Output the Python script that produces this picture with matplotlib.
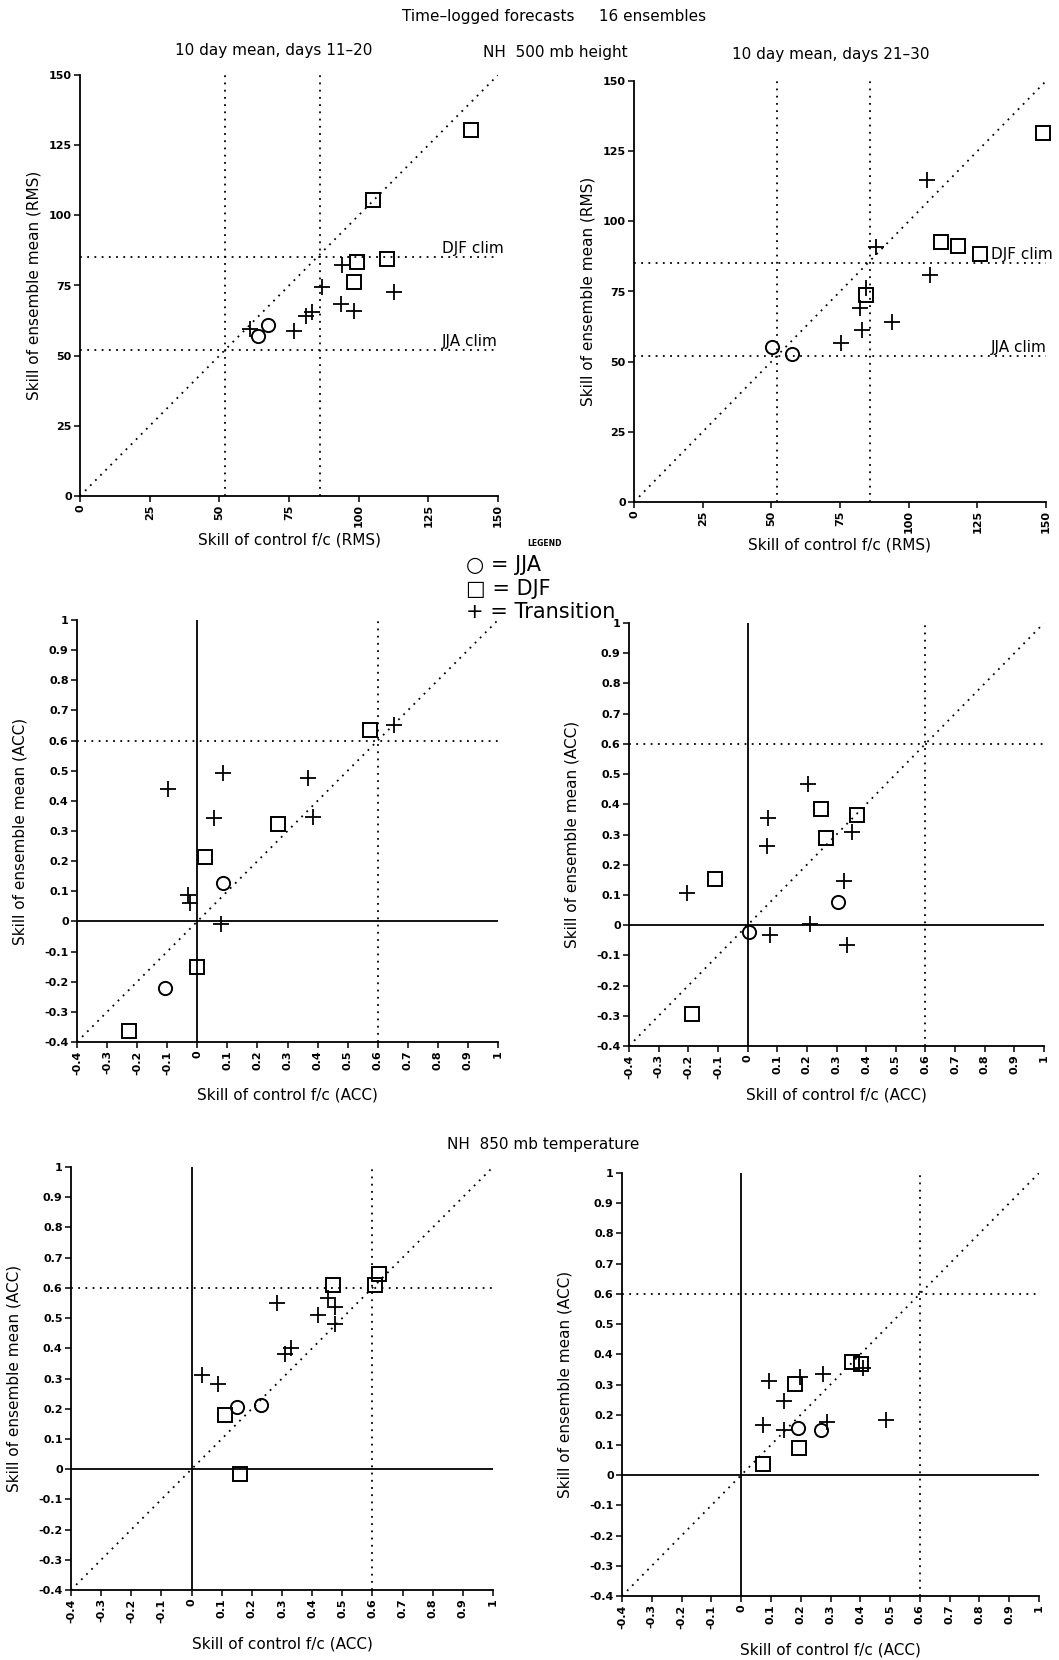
import matplotlib
matplotlib.use("Agg")
import matplotlib.pyplot as plt

plt.rcParams['font.family'] = ['DejaVu Sans']

# --- NH 500 mb height, RMS, days 11-20 ---
rms1_djf_x = [140.2, 105.3, 99.3, 110.3, 98.4]
rms1_djf_y = [130.5, 105.5, 83.5, 84.4, 76.3]
rms1_jja_x = [63.7, 67.5]
rms1_jja_y = [56.9, 60.8]
rms1_tr_x = [61.0, 76.8, 81.0, 83.1, 86.9, 94.0, 93.8, 98.2, 112.6]
rms1_tr_y = [59.5, 58.8, 64.2, 65.7, 74.6, 82.4, 68.4, 65.8, 72.7]

# --- NH 500 mb height, RMS, days 21-30 ---
rms2_djf_x = [148.8, 111.9, 118.1, 126.1, 84.6]
rms2_djf_y = [131.3, 92.6, 91.2, 88.4, 73.8]
rms2_jja_x = [50.3, 57.7]
rms2_jja_y = [55.1, 52.8]
rms2_tr_x = [106.7, 88.0, 107.7, 84.3, 82.2, 83.1, 75.4, 94.1]
rms2_tr_y = [114.9, 90.7, 81.0, 76.3, 69.1, 61.2, 56.6, 64.3]

# --- NH 500 mb height, ACC, days 11-20 ---
acc1_djf_x = [0.574, 0.269, 0.026, -0.002, -0.227]
acc1_djf_y = [0.634, 0.322, 0.215, -0.151, -0.362]
acc1_jja_x = [0.086, -0.109]
acc1_jja_y = [0.128, -0.221]
acc1_tr_x = [0.654, 0.086, -0.098, 0.369, 0.384, 0.055, -0.030, -0.023, 0.080]
acc1_tr_y = [0.653, 0.491, 0.438, 0.477, 0.346, 0.342, 0.088, 0.060, -0.010]

# --- NH 500 mb height, ACC, days 21-30 ---
acc2_djf_x = [0.248, 0.368, 0.264, -0.110, -0.189]
acc2_djf_y = [0.383, 0.366, 0.290, 0.152, -0.294]
acc2_jja_x = [0.304, 0.004]
acc2_jja_y = [0.075, -0.022]
acc2_tr_x = [0.203, 0.069, 0.067, 0.353, 0.324, -0.206, 0.211, 0.075, 0.336]
acc2_tr_y = [0.466, 0.356, 0.262, 0.309, 0.146, 0.106, 0.004, -0.034, -0.067]

# --- NH 850 mb temperature, ACC, days 11-20 ---
t1_djf_x = [0.469, 0.621, 0.607, 0.110, 0.161]
t1_djf_y = [0.611, 0.645, 0.608, 0.180, -0.015]
t1_jja_x = [0.150, 0.230]
t1_jja_y = [0.205, 0.213]
t1_tr_x = [0.284, 0.419, 0.453, 0.477, 0.475, 0.310, 0.331, 0.035, 0.088]
t1_tr_y = [0.550, 0.509, 0.567, 0.538, 0.480, 0.381, 0.402, 0.312, 0.283]

# --- NH 850 mb temperature, ACC, days 21-30 ---
t2_djf_x = [0.371, 0.404, 0.181, 0.195, 0.073]
t2_djf_y = [0.376, 0.367, 0.303, 0.090, 0.036]
t2_jja_x = [0.190, 0.268]
t2_jja_y = [0.155, 0.148]
t2_tr_x = [0.093, 0.198, 0.274, 0.144, 0.073, 0.144, 0.289, 0.487, 0.408]
t2_tr_y = [0.312, 0.324, 0.335, 0.245, 0.167, 0.150, 0.175, 0.181, 0.355]

rms_ticks = [0, 25, 50, 75, 100, 125, 150]
acc_ticks = [-0.4, -0.3, -0.2, -0.1, 0, 0.1, 0.2, 0.3, 0.4, 0.5, 0.6, 0.7, 0.8, 0.9, 1]
acc_labels = ['-0.4', '-0.3', '-0.2', '-0.1', '0', '0.1', '0.2', '0.3', '0.4',
              '0.5', '0.6', '0.7', '0.8', '0.9', '1']
rms_clim = {'DJF clim': 85, 'JJA clim': 52}

W, H = 1059, 1660
fig = plt.figure(figsize=(W / 100, H / 100), dpi=100)

dot = (0, (1, 3))
LAB = 11


def make_axes(l, r, t, b):
    # pixel box -> figure fraction
    return fig.add_axes([l / W, 1 - b / H, (r - l) / W, (b - t) / H])


def style(ax, lo, hi, ticks, labels):
    ax.set_xlim(lo, hi)
    ax.set_ylim(lo, hi)
    ax.set_xticks(ticks)
    ax.set_yticks(ticks)
    ax.set_xticklabels(labels, rotation=90, fontsize=8, fontweight='bold')
    ax.set_yticklabels(labels, fontsize=8, fontweight='bold')
    for s in ['top', 'right']:
        ax.spines[s].set_visible(False)
    for s in ['left', 'bottom']:
        ax.spines[s].set_linewidth(1.3)
    ax.tick_params(direction='out', length=4, width=1.1, pad=2)
    ax.axline((lo, lo), (hi, hi), color='k', linestyle=dot, lw=1.3)


def points(ax, djf_x, djf_y, jja_x, jja_y, tr_x, tr_y):
    ax.plot(djf_x, djf_y, 's', ms=9.5, mfc='none', mec='k', mew=1.4, clip_on=False)
    ax.plot(jja_x, jja_y, 'o', ms=9.5, mfc='none', mec='k', mew=1.4, clip_on=False)
    ax.plot(tr_x, tr_y, '+', ms=11, mec='k', mew=1.3, clip_on=False)


def rms_panel(box, data, xlab_y, ylab_x):
    ax = make_axes(*box)
    style(ax, 0, 150, rms_ticks, [str(t) for t in rms_ticks])
    for v in [52, 86]:
        ax.axvline(v, color='k', linestyle=dot, lw=1.3)
    for name, v in rms_clim.items():
        ax.axhline(v, color='k', linestyle=dot, lw=1.3)
        ax.text(130, v + 0.5, name, fontsize=LAB, va='bottom', ha='left', clip_on=False)
    points(ax, *data)
    ax.set_xlabel('Skill of control f/c (RMS)', fontsize=LAB, va='center')
    ax.set_ylabel('Skill of ensemble mean (RMS)', fontsize=LAB, va='center')
    ax.xaxis.set_label_coords(0.5, xlab_y)
    ax.yaxis.set_label_coords(ylab_x, 0.5)
    return ax


def acc_panel(box, data, xlab_y, ylab_x):
    ax = make_axes(*box)
    style(ax, -0.4, 1, acc_ticks, acc_labels)
    ax.axvline(0, color='k', lw=1.3)
    ax.axhline(0, color='k', lw=1.3)
    ax.axvline(0.6, color='k', linestyle=dot, lw=1.3)
    ax.axhline(0.6, color='k', linestyle=dot, lw=1.3)
    points(ax, *data)
    ax.set_xlabel('Skill of control f/c (ACC)', fontsize=LAB, va='center')
    ax.set_ylabel('Skill of ensemble mean (ACC)', fontsize=LAB, va='center')
    ax.xaxis.set_label_coords(0.5, xlab_y)
    ax.yaxis.set_label_coords(ylab_x, 0.5)
    return ax


rms_panel((80, 498, 75, 496),
          (rms1_djf_x, rms1_djf_y, rms1_jja_x, rms1_jja_y, rms1_tr_x, rms1_tr_y),
          -0.105, -0.11)
rms_panel((634, 1046, 81, 502),
          (rms2_djf_x, rms2_djf_y, rms2_jja_x, rms2_jja_y, rms2_tr_x, rms2_tr_y),
          -0.102, -0.112)
acc_panel((77, 498, 620, 1042),
          (acc1_djf_x, acc1_djf_y, acc1_jja_x, acc1_jja_y, acc1_tr_x, acc1_tr_y),
          -0.125, -0.135)
acc_panel((629, 1044, 623, 1046),
          (acc2_djf_x, acc2_djf_y, acc2_jja_x, acc2_jja_y, acc2_tr_x, acc2_tr_y),
          -0.115, -0.137)
acc_panel((71, 493, 1167, 1590),
          (t1_djf_x, t1_djf_y, t1_jja_x, t1_jja_y, t1_tr_x, t1_tr_y),
          -0.128, -0.135)
acc_panel((622, 1039, 1173, 1596),
          (t2_djf_x, t2_djf_y, t2_jja_x, t2_jja_y, t2_tr_x, t2_tr_y),
          -0.128, -0.137)

# titles
fig.text(554 / W, 1 - 17 / H, 'Time\u2013logged forecasts     16 ensembles', ha='center', va='center', fontsize=LAB)
fig.text(274 / W, 1 - 51 / H, '10 day mean, days 11\u201320', ha='center', va='center', fontsize=LAB)
fig.text(555 / W, 1 - 52 / H, 'NH  500 mb height', ha='center', va='center', fontsize=LAB)
fig.text(831 / W, 1 - 55 / H, '10 day mean, days 21\u201330', ha='center', va='center', fontsize=LAB)
fig.text(543 / W, 1 - 1144 / H, 'NH  850 mb temperature', ha='center', va='center', fontsize=LAB)

# legend
fig.text(544 / W, 1 - 544 / H, 'LEGEND', ha='center', va='center', fontsize=5.5, fontweight='bold')
fig.text(466 / W, 1 - 565 / H, '\u25cb = JJA', ha='left', va='center', fontsize=15)
fig.text(466 / W, 1 - 589 / H, '\u25a1 = DJF', ha='left', va='center', fontsize=15)
fig.text(466 / W, 1 - 612 / H, '+ = Transition', ha='left', va='center', fontsize=15)

fig.savefig('out.png', dpi=100, facecolor='white')
